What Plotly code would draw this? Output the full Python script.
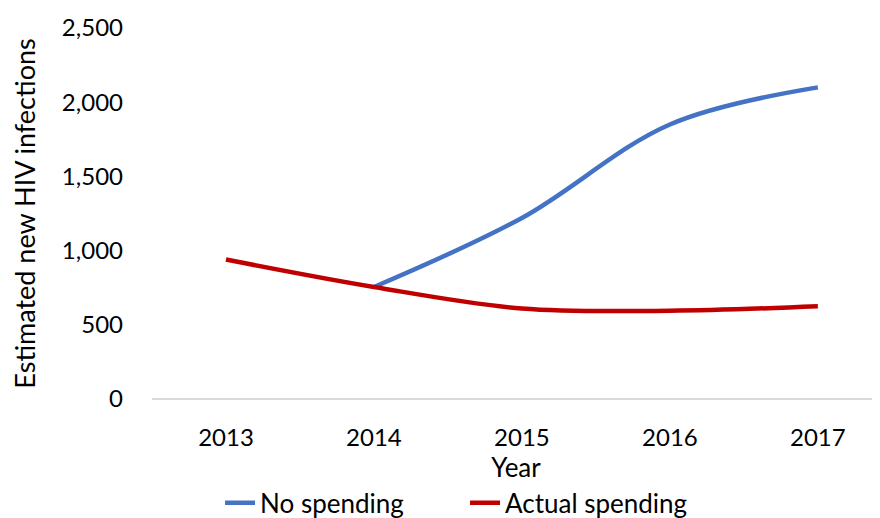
import plotly.graph_objects as go

years = ["2013", "2014", "2015", "2016", "2017"]
no_spending = [None, 755, 1220, 1850, 2100]
actual_spending = [940, 755, 610, 595, 625]
y_ticks = [0, 500, 1000, 1500, 2000, 2500]

xpos = list(range(len(years)))
font_family = "Lato, Open Sans, sans-serif"

fig = go.Figure()
fig.add_trace(go.Scatter(x=xpos, y=no_spending, mode="lines", name="No spending",
                         line=dict(color="#4472C4", width=4.5, shape="spline", smoothing=1.0),
                         connectgaps=False))
fig.add_trace(go.Scatter(x=xpos, y=actual_spending, mode="lines", name="Actual spending",
                         line=dict(color="#C00000", width=4.5, shape="spline", smoothing=1.0)))

fig.update_layout(
    width=872, height=510,
    margin=dict(l=144, r=0, t=20, b=119, autoexpand=False),
    paper_bgcolor="white", plot_bgcolor="white",
    font=dict(family=font_family, size=24, color="black"),
    showlegend=True,
    legend=dict(orientation="h", x=0.43, xanchor="center", y=-0.28, yanchor="middle",
                font=dict(size=26), itemwidth=30, entrywidth=200, entrywidthmode="pixels",
                tracegroupgap=0, traceorder="normal"),
    xaxis=dict(range=[-0.5, 4.42], tickmode="array", tickvals=xpos, ticktext=years,
               showgrid=False, zeroline=False, showline=False, ticks="",
               ticklabelstandoff=22, automargin=False,
               title=dict(text="Year", standoff=6, font=dict(size=26))),
    yaxis=dict(range=[0, 2500], tickmode="array", tickvals=y_ticks,
               tickformat=",", showgrid=False, zeroline=True, zerolinecolor="#D9D9D9",
               zerolinewidth=1.5, showline=False, ticks="", ticklabelstandoff=28,
               automargin=False,
               title=dict(text="Estimated new HIV infections", standoff=20, font=dict(size=27))),
)

fig.write_html("out.html")
